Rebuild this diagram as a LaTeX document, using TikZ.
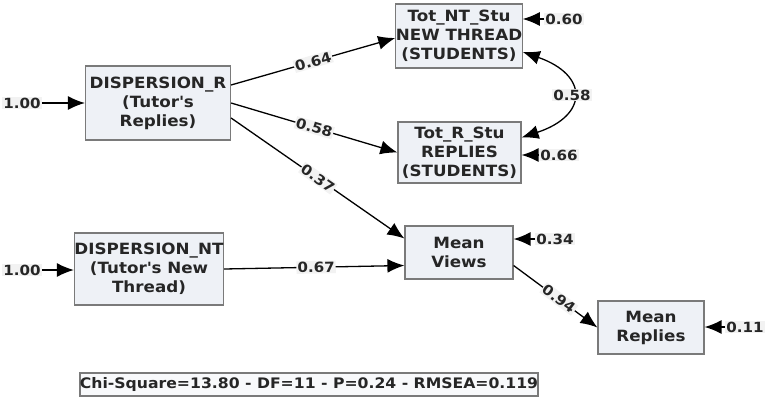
\documentclass[tikz,border=0pt]{standalone}
\usepackage{fontspec}
\newfontfamily\semfont{DejaVu Sans}[FakeStretch=1.08]
\usetikzlibrary{arrows.meta, positioning}
\definecolor{boxfill}{HTML}{EEF1F6}
\definecolor{boxline}{HTML}{7A7A7A}
\definecolor{labfill}{HTML}{F2F2F2}
\tikzset{
  var/.style={draw=boxline, fill=boxfill, line width=1.2pt, align=center, inner sep=0pt,
    text=black!85, font=\semfont\bfseries\fontsize{15.5}{19}\selectfont},
  coef/.style={fill=labfill, inner sep=1pt, text=black!85,
    font=\semfont\bfseries\fontsize{14}{15}\selectfont},
  fitbox/.style={draw=boxline, fill=boxfill!40, line width=1.2pt, inner sep=0pt,
    text=black!85, font=\semfont\bfseries\fontsize{14.5}{17}\selectfont},
  path/.style={->, line width=1.3pt},
}

\begin{document}
\begin{tikzpicture}[x=1pt, y=-1pt, >={Latex[length=17pt,width=14pt]}]
    \useasboundingbox (0,0) rectangle (766,402);

    % variables
    \node[var, minimum width=145, minimum height=74] (dispR) at (158,103)
        {DISPERSION\_R\\(Tutor\textquotesingle s\\Replies)};
    \node[var, minimum width=126, minimum height=64] (totNT) at (459,36)
        {Tot\_NT\_Stu\\NEW THREAD\\(STUDENTS)};
    \node[var, minimum width=123, minimum height=61] (totR) at (459.5,152.5)
        {Tot\_R\_Stu\\REPLIES\\(STUDENTS)};
    \node[var, minimum width=146, minimum height=72] (dispNT) at (149,269)
        {DISPERSION\_NT\\(Tutor\textquotesingle s New\\Thread)};
    \node[var, minimum width=108, minimum height=53] (views) at (459,252.5)
        {Mean\\Views};
    \node[var, minimum width=106, minimum height=53] (replies) at (651,327.5)
        {Mean\\Replies};

    % error terms
    \node[coef] (eR)   at (22,103)  {1.00};
    \node[coef] (eNT)  at (22,270)  {1.00};
    \node[coef] (eTNT) at (564,19)  {0.60};
    \node[coef] (eTR)  at (559,155) {0.66};
    \node[coef] (eV)   at (555,239) {0.34};
    \node[coef] (eRep) at (745,327) {0.11};

    \draw[path] (eR) -- (dispR);
    \draw[path] (eNT) -- (dispNT.west |- eNT);
    \draw[path] (eTNT) -- (totNT.east |- eTNT);
    \draw[path] (eTR) -- (totR.east |- eTR);
    \draw[path] (eV) -- (views.east |- eV);
    \draw[path] (eRep) -- (replies.east |- eRep);

    % paths
    \draw[path] ([yshift=18pt]dispR.east) -- ([yshift=-2pt]totNT.west)
        node[coef, sloped, pos=0.5] {0.64};
    \draw[path] (dispR.east) -- (totR.west)
        node[coef, sloped, pos=0.5] {0.58};
    \draw[path] ([yshift=-15pt]dispR.east) -- ([yshift=14pt]views.west)
        node[coef, sloped, pos=0.5] {0.37};
    \draw[path] (dispNT.east) -- ([yshift=-13pt]views.west)
        node[coef, sloped, pos=0.51] {0.67};
    \draw[path] ([yshift=-13pt]views.east) -- (replies.west)
        node[coef, sloped, pos=0.54] {0.94};

    % covariance
    \draw[<->, line width=1.3pt] ([yshift=-16pt]totNT.east)
        .. controls +(66,23) and +(67,-22) .. ([yshift=15pt]totR.east)
        node[coef, pos=0.5] {0.58};

    % fit
    \node[fitbox, minimum width=458, minimum height=23] (fit) at (309,384.5)
        {Chi-Square=13.80 - DF=11 - P=0.24 - RMSEA=0.119};

\end{tikzpicture}
\end{document}
